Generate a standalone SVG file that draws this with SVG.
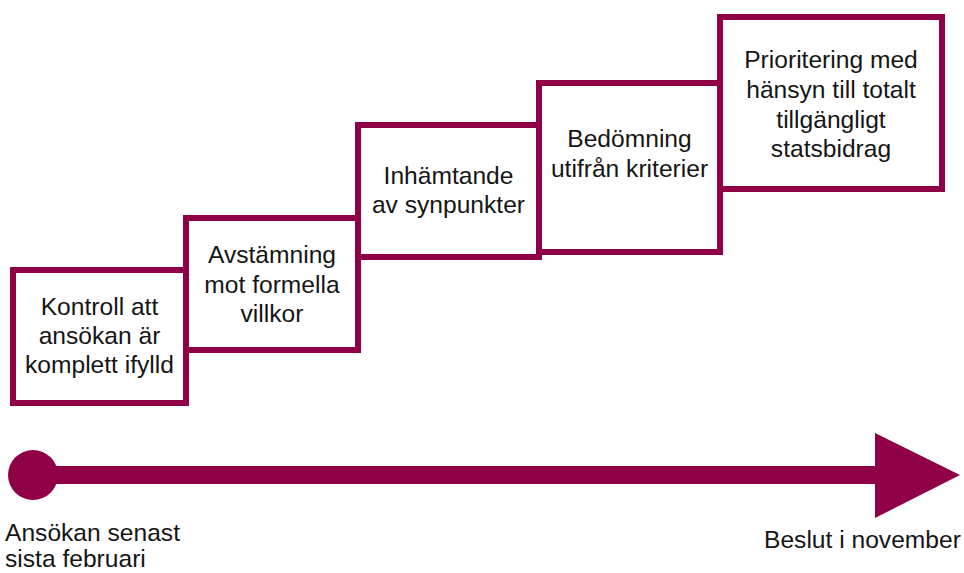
<svg xmlns="http://www.w3.org/2000/svg" width="964" height="573" viewBox="0 0 964 573">
<style>
.box{fill:#fff;stroke:#8f0047;stroke-width:6}
.t{font-family:"Liberation Sans",Arial,sans-serif;font-size:24.6px;fill:#151515;text-anchor:middle}
.l{font-family:"Liberation Sans",Arial,sans-serif;font-size:24.6px;fill:#151515}
</style>
<rect width="964" height="573" fill="#fff"/>
<g id="step1"><rect class="box" x="13" y="270" width="173" height="133"/>
<text class="t"><tspan x="99.5" y="315">Kontroll att</tspan><tspan x="99.5" y="344">ansökan är</tspan><tspan x="99.5" y="373">komplett ifylld</tspan></text></g>
<g id="step2"><rect class="box" x="186" y="218" width="172" height="132"/>
<text class="t"><tspan x="272" y="263">Avstämning</tspan><tspan x="272" y="293">mot formella</tspan><tspan x="272" y="322">villkor</tspan></text></g>
<g id="step3"><rect class="box" x="358" y="125" width="181" height="132"/>
<text class="t"><tspan x="448.5" y="184">Inhämtande</tspan><tspan x="448.5" y="213">av synpunkter</tspan></text></g>
<g id="step4"><rect class="box" x="539" y="83" width="181" height="169"/>
<text class="t"><tspan x="629.5" y="147">Bedömning</tspan><tspan x="629.5" y="177">utifrån kriterier</tspan></text></g>
<g id="step5"><rect class="box" x="720" y="17" width="222" height="172"/>
<text class="t"><tspan x="831" y="68">Prioritering med</tspan><tspan x="831" y="98">hänsyn till totalt</tspan><tspan x="831" y="128">tillgängligt</tspan><tspan x="831" y="157">statsbidrag</tspan></text></g>
<g id="connectors">
<line x1="33" y1="475" x2="877" y2="475" stroke="#8f0047" stroke-width="18"/>
<circle cx="33" cy="475" r="25" fill="#8f0047"/>
<polygon points="875,433 960,475 875,518" fill="#8f0047"/>
</g>
<g id="start"><text class="l"><tspan x="5" y="541">Ansökan senast</tspan><tspan x="5" y="567">sista februari</tspan></text></g>
<g id="end"><text class="l" x="764" y="548">Beslut i november</text></g>
</svg>
